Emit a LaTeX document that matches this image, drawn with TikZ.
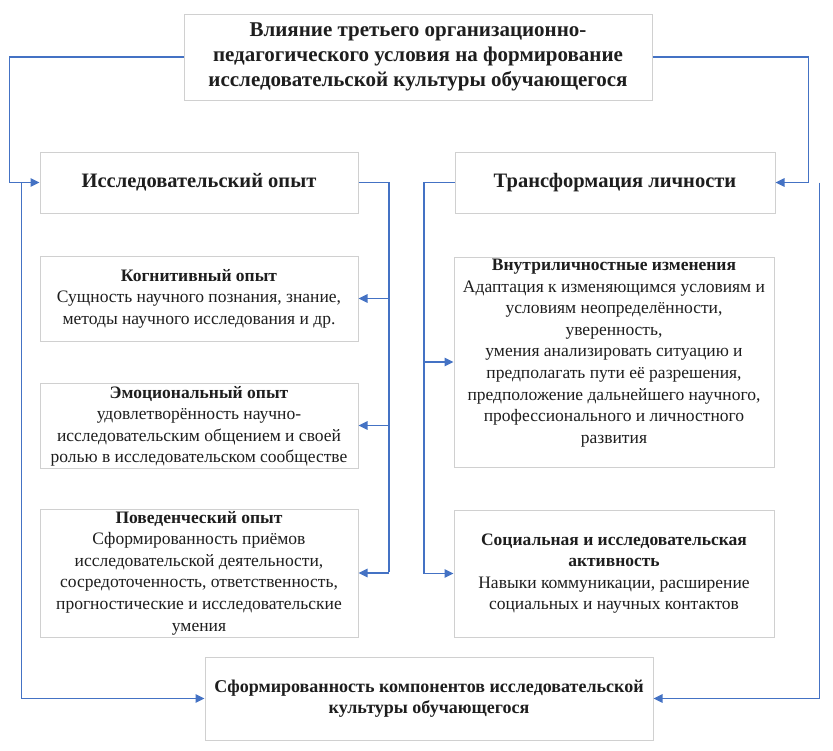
\documentclass[tikz,border=0pt]{standalone}
\usepackage{fontspec}
\setmainfont{Liberation Serif}
\usetikzlibrary{arrows.meta}
\definecolor{lineblue}{HTML}{4472C4}
\definecolor{boxgray}{HTML}{D0D0D0}
\definecolor{txt}{HTML}{1E1E1E}
\begin{document}
\begin{tikzpicture}[x=1pt,y=-1pt,
  box/.style={draw=boxgray, line width=1pt, fill=white, text=txt, align=center, inner sep=0pt},
  conn/.style={draw=lineblue, line width=1.5pt},
  arr/.style={conn, -{Triangle[length=9pt,width=8.5pt]}},
  bodytext/.style={font=\fontsize{17.5}{21.6}\selectfont},
  headtext/.style={font=\bfseries\fontsize{21}{25}\selectfont},
  sechead/.style={font=\bfseries\fontsize{20.5}{25}\selectfont},
  bothead/.style={font=\bfseries\fontsize{18}{21}\selectfont}
]
\useasboundingbox[fill=white] (0,0) rectangle (833,750);

\node[box, headtext, minimum width=468pt, minimum height=86pt] (top) at (418,57)
  {Влияние третьего организационно-\\педагогического условия на формирование\\исследовательской культуры обучающегося};

\node[box, sechead, minimum width=318pt, minimum height=61pt] (io) at (199,182.5) {Исследовательский опыт};
\node[box, sechead, minimum width=320pt, minimum height=61pt] (tl) at (615,182.5) {Трансформация личности};

\node[box, bodytext, minimum width=318pt, minimum height=85pt] (cog) at (199,298.5)
  {\textbf{Когнитивный опыт}\\Сущность научного познания, знание,\\методы научного исследования и др.};
\node[box, bodytext, minimum width=318pt, minimum height=85pt] (emo) at (199,425.5)
  {\begin{minipage}[c][85pt][t]{316pt}\centering\vspace*{3pt}\textbf{Эмоциональный опыт}\\удовлетворённость научно-\\исследовательским общением и своей\\ролью в исследовательском сообществе\end{minipage}};
\node[box, bodytext, minimum width=318pt, minimum height=128pt] (beh) at (199,573)
  {\textbf{Поведенческий опыт}\\Сформированность приёмов\\исследовательской деятельности,\\сосредоточенность, ответственность,\\прогностические и исследовательские\\умения};

\node[box, bodytext, minimum width=320pt, minimum height=210pt] (vnu) at (614,362)
  {\begin{minipage}[c][210pt][t]{318pt}\centering\vspace*{2pt}\textbf{Внутриличностные изменения}\\Адаптация к изменяющимся условиям и\\условиям неопределённости,\\уверенность,\\умения анализировать ситуацию и\\предполагать пути её разрешения,\\предположение дальнейшего научного,\\профессионального и личностного\\развития\end{minipage}};
\node[box, bodytext, minimum width=320pt, minimum height=127pt] (soc) at (614,573.5)
  {\textbf{Социальная и исследовательская}\\\textbf{активность}\\Навыки коммуникации, расширение\\социальных и научных контактов};

\node[box, bothead, minimum width=448pt, minimum height=83pt] (bot) at (429,698.5)
  {Сформированность компонентов исследовательской\\культуры обучающегося};

% connectors from the top box
\draw[arr] (top.west) -| ([xshift=-30pt]io.west) -- (io.west);
\draw[arr] (top.east) -| ([xshift=33pt]tl.east) -- (tl.east);
% long side lines to the bottom box
\draw[arr] ([xshift=-18pt]io.west) |- (bot.west);
\draw[arr] ([xshift=44pt]tl.east) |- (bot.east);
% left trunk
\coordinate (trunkL) at (389,572);
\draw[conn] (io.east) -| (trunkL);
\draw[arr] (trunkL |- cog.east) -- (cog.east);
\draw[arr] (trunkL |- emo.east) -- (emo.east);
\draw[arr] (trunkL |- beh.east) -- (beh.east);
% right trunk
\coordinate (trunkR) at (424,573.5);
\draw[conn] (tl.west) -| (trunkR);
\draw[arr] (trunkR |- vnu.west) -- (vnu.west);
\draw[arr] (trunkR |- soc.west) -- (soc.west);
\end{tikzpicture}
\end{document}
